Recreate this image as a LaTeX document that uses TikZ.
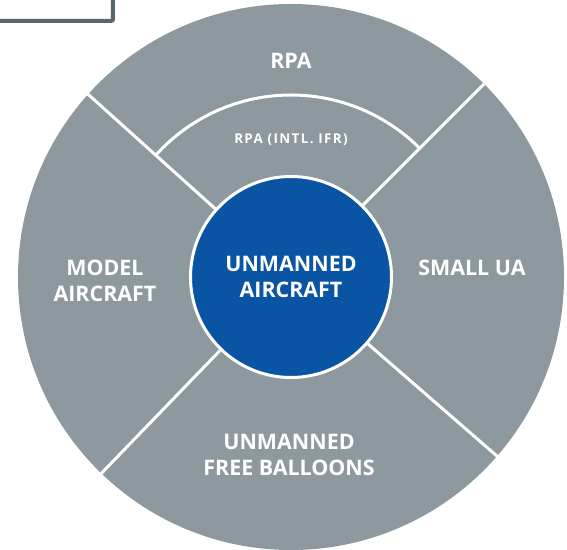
\documentclass[tikz,border=0pt]{standalone}
\usepackage{tikz}
\usepackage{xcolor}
\usepackage{fontspec}
\setmainfont{Open Sans}

\definecolor{ringgray}{RGB}{141,152,159}
\definecolor{hubblue}{RGB}{10,84,164}
\definecolor{framegray}{RGB}{88,102,110}

\begin{document}
\begin{tikzpicture}[x=1bp, y=1bp,
    divider/.style={draw=white, line width=3bp},
    biglabel/.style={text=white, align=center, inner sep=0pt,
        font=\bfseries\fontsize{21.5}{26}\selectfont},
    smalllabel/.style={text=white, inner sep=0pt,
        font=\bfseries\fontsize{13.5}{16}\selectfont\addfontfeature{LetterSpace=10}}]

    \useasboundingbox (-291,-273) rectangle (276,277);

    % Frame cut off in the top left corner
    \draw[framegray, line width=4bp, rounded corners=2bp, fill=white] (-310,295) rectangle (-178,256);

    % Big grey disc
    \node[circle, fill=ringgray, minimum size=546bp, inner sep=0pt] (rim) at (0,0) {};

    % Blue hub in the middle
    \node[biglabel, circle, fill=hubblue, draw=white, line width=3bp, minimum size=201bp] (hub) at (0,0) {UNMANNED\\AIRCRAFT};

    % White dividers from the hub out to the rim
    \draw[divider] (hub.138) -- (rim.138);
    \draw[divider] (hub.45) -- (rim.45);
    \draw[divider] (hub.226) -- (rim.226);
    \draw[divider] (hub.-41.4) -- (rim.-41.4);

    % Inner arc of the top sector
    \draw[divider] ([shift={(45:182)}]hub.center) arc[start angle=45, end angle=138, radius=182];

    % Sector labels
    \node[biglabel] (rpa) at (0,216) {RPA};
    \node[smalllabel] (rpaifr) at (0,137) {RPA (INTL. IFR)};
    \node[biglabel] (model) at (-186,-3.5) {MODEL\\AIRCRAFT};
    \node[biglabel] (smallua) at (181,9) {SMALL UA};
    \node[biglabel] (balloons) at (-2,-177.5) {UNMANNED\\FREE BALLOONS};

\end{tikzpicture}
\end{document}
